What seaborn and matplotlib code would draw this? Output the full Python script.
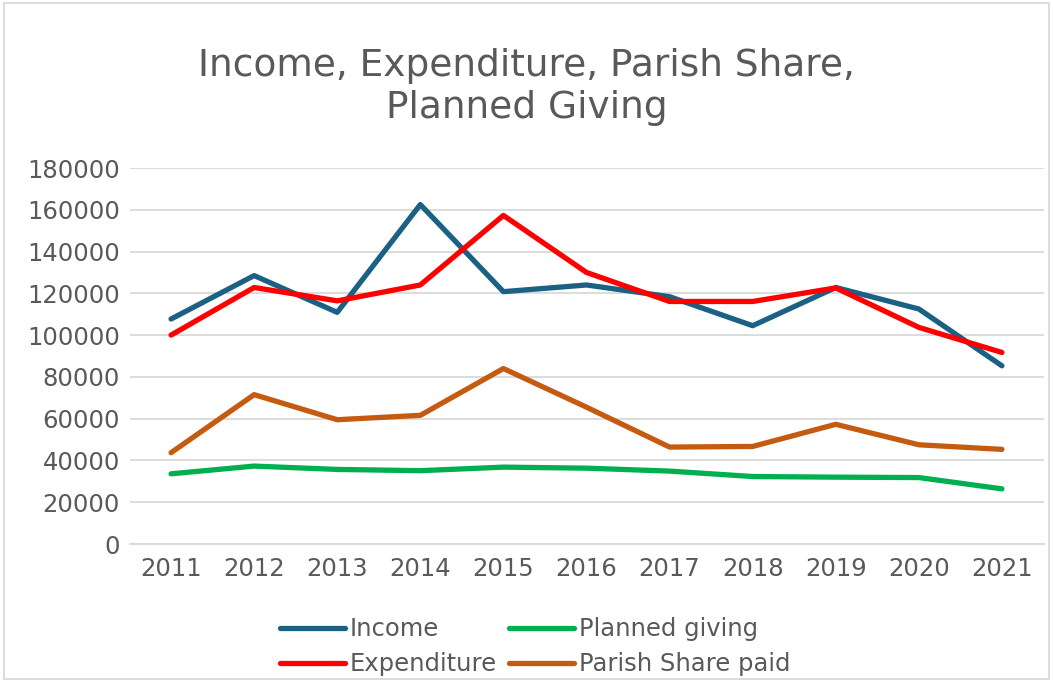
import matplotlib
matplotlib.use("Agg")
import matplotlib.pyplot as plt
import pandas as pd
import seaborn as sns
from matplotlib.patches import Rectangle

# values
years = [2011, 2012, 2013, 2014, 2015, 2016, 2017, 2018, 2019, 2020, 2021]
income = [107700, 128500, 110900, 162500, 120800, 124000, 118400, 104500, 122800, 112500, 85300]
expenditure = [100000, 122800, 116400, 124000, 157300, 130000, 116100, 116100, 122600, 103700, 91700]
planned_giving = [33600, 37300, 35700, 35100, 36800, 36300, 34900, 32300, 32000, 31800, 26400]
parish_share = [43700, 71500, 59500, 61600, 84000, 65500, 46400, 46700, 57300, 47500, 45300]

series_names = ["Income", "Expenditure", "Planned giving", "Parish Share paid"]
series_colors = ["#1B6183", "#FF0000", "#00B050", "#C55A11"]
yticks = [0, 20000, 40000, 60000, 80000, 100000, 120000, 140000, 160000, 180000]

df = pd.DataFrame({"Year": [str(y) for y in years] * 4,
                   "Value": income + expenditure + planned_giving + parish_share,
                   "Series": [n for n in series_names for _ in years]})

sns.set_theme(style="white")
plt.rcParams["font.family"] = "DejaVu Sans"
plt.rcParams["font.sans-serif"] = ["DejaVu Sans"]
text_col = "#595959"

fig = plt.figure(figsize=(10.53, 6.82), dpi=100)
ax = fig.add_axes([129.5 / 1053, 1 - 544 / 682, (1043.5 - 129.5) / 1053, (544 - 168) / 682])

sns.lineplot(data=df, x="Year", y="Value", hue="Series", hue_order=series_names,
             palette=series_colors, linewidth=3.8, sort=False, ax=ax,
             solid_capstyle="round", legend=True)

ax.set_xlim(-0.5, len(years) - 0.5)
ax.set_ylim(0, 180000)
ax.set_yticks(yticks)
ax.set_yticklabels([str(v) for v in yticks])
ax.yaxis.grid(True, color="#D9D9D9", linewidth=1.3)
ax.set_axisbelow(True)
for s in ["top", "right", "left"]:
    ax.spines[s].set_visible(False)
ax.spines["bottom"].set_color("#D9D9D9")
ax.spines["bottom"].set_linewidth(1.3)
ax.tick_params(axis="both", length=0, labelsize=17.5, colors=text_col)
ax.tick_params(axis="x", pad=9)
ax.tick_params(axis="y", pad=7)
ax.set_xlabel("")
ax.set_ylabel("")

fig.suptitle("Income, Expenditure, Parish Share,\nPlanned Giving", y=1 - 48 / 682,
             fontsize=27, color=text_col, linespacing=1.22)

handles, labels = ax.get_legend_handles_labels()
ax.legend(handles, labels, ncol=2, loc="lower center", bbox_to_anchor=(0.508, 1 - 698 / 682),
          bbox_transform=fig.transFigure, frameon=False, fontsize=17.5,
          labelcolor=text_col, handlelength=2.7, handletextpad=0.18,
          columnspacing=0.5, labelspacing=0.45)

fig.patches.append(Rectangle((0.004, 0.004), 0.992, 0.992, transform=fig.transFigure,
                             fill=False, edgecolor="#D9D9D9", linewidth=1.3))

fig.savefig("out.png", dpi=100, facecolor="white")
